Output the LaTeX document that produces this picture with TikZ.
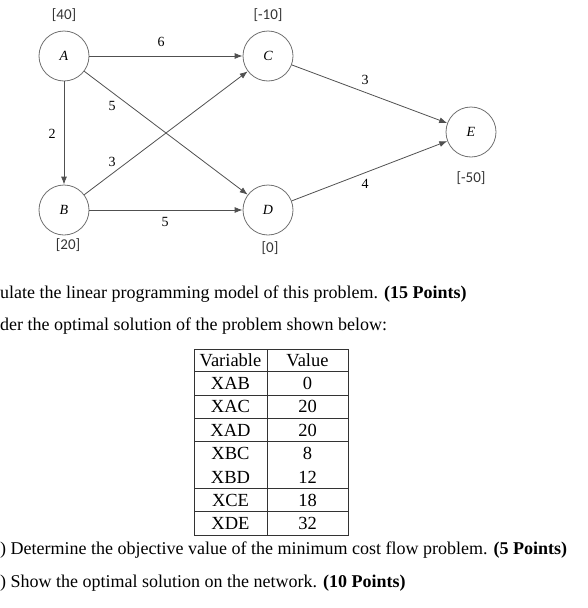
\documentclass[tikz,border=0pt]{standalone}
\usepackage{fontspec}
\setmainfont{Liberation Serif}
\newfontfamily\calib{Carlito}
\usetikzlibrary{arrows.meta}
\definecolor{edgegray}{HTML}{505050}
\definecolor{circgray}{HTML}{707070}
\tikzset{
  vtx/.style={circle,draw=circgray,line width=0.8pt,minimum size=50pt,inner sep=0pt,font=\fontsize{14}{14}\selectfont\itshape},
  supply/.style={font=\calib\fontsize{15}{15}\selectfont,text=black!80},
  arc/.style={draw=edgegray,line width=0.8pt,-{Latex[length=8pt,width=6pt]}},
  cost/.style={font=\fontsize{14}{14}\selectfont},
  body/.style={anchor=west,inner sep=0pt,font=\fontsize{18}{18}\selectfont},
  cell/.style={inner sep=0pt,font=\fontsize{18.5}{18.5}\selectfont},
  tline/.style={draw=black!80,line width=0.8pt}
}
\begin{document}
\begin{tikzpicture}[x=1pt,y=-1pt]
\useasboundingbox (0,0) rectangle (588,608);
% nodes
\node[vtx] (A) at (64,56) {A};
\node[vtx] (C) at (268,56) {C};
\node[vtx] (B) at (64,210) {B};
\node[vtx] (D) at (268,210) {D};
\node[vtx] (E) at (471,132) {E};
% supplies
\node[supply] (sA) at (64,15) {[40]};
\node[supply] (sC) at (268,15) {[-10]};
\node[supply] (sB) at (68,245) {[20]};
\node[supply] (sD) at (270,248) {[0]};
\node[supply] (sE) at (471,178) {[-50]};
% arcs
\draw[arc] (A) -- (C);
\draw[arc] (A) -- (D);
\draw[arc] (A) -- (B);
\draw[arc] (B) -- (C);
\draw[arc] (B) -- (D);
\draw[arc] (C) -- (E);
\draw[arc] (D) -- (E);
% costs
\node[cost] (cAC) at (161,42) {6};
\node[cost] (cAD) at (112,106) {5};
\node[cost] (cAB) at (52,134) {2};
\node[cost] (cBC) at (112,162) {3};
\node[cost] (cBD) at (165,222) {5};
\node[cost] (cCE) at (365,80) {3};
\node[cost] (cDE) at (365,184) {4};
% text
\node[body] (t1) at (0,294) {ulate the linear programming model of this problem. \textbf{(15 Points)}};
\node[body] (t2) at (0,326) {der the optimal solution of the problem shown below:};
\node[body] (t3) at (0,550) {) Determine the objective value of the minimum cost flow problem. \textbf{(5 Points)}};
\node[body] (t4) at (0,583) {) Show the optimal solution on the network. \textbf{(10 Points)}};
% table
\draw[tline] (194,349) rectangle (348,535);
\draw[tline] (267,349) -- (267,535);
\foreach \yy in {371,395,418,441,488,511} \draw[tline] (194,\yy) -- (348,\yy);
\foreach \nm/\vl/\yy in {Variable/Value/360,XAB/0/383,XAC/20/406,XAD/20/430,XBC/8/453,XBD/12/477,XCE/18/500,XDE/32/523}{
  \node[cell] at (230.5,\yy) {\nm};
  \node[cell] at (307.5,\yy) {\vl};
}
\end{tikzpicture}
\end{document}
